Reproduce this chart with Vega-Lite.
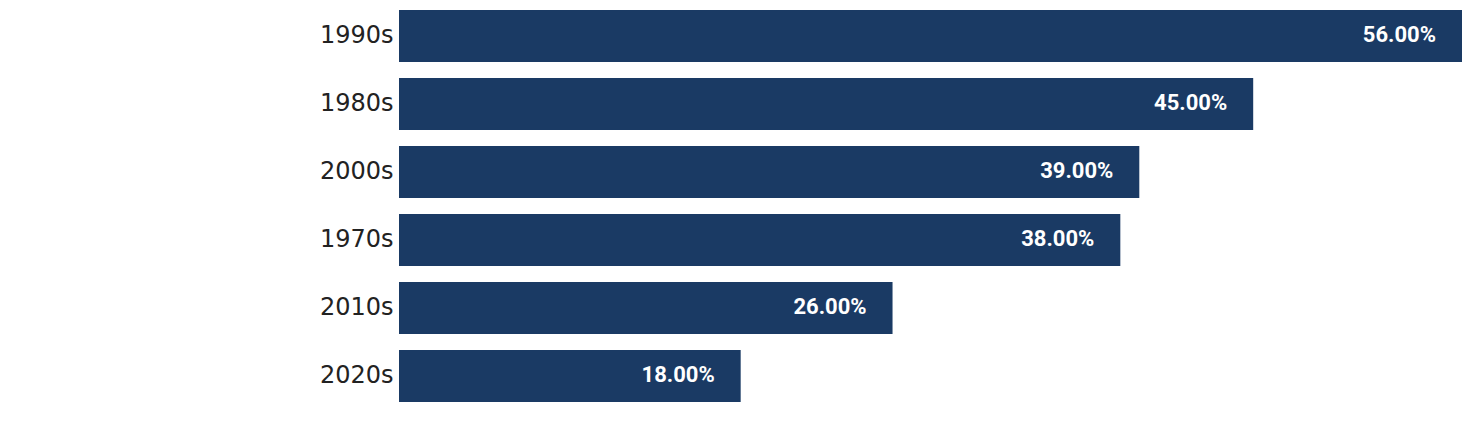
{
  "$schema": "https://vega.github.io/schema/vega-lite/v6.json",
  "autosize": "none",
  "padding": {"left": 399, "top": 2, "right": 14, "bottom": 25},
  "width": 1063,
  "height": 408,
  "background": "white",
  "config": {"view": {"stroke": null}},
  "data": {"values": [
    {"decade": "1990s", "value": 0.56},
    {"decade": "1980s", "value": 0.45},
    {"decade": "2000s", "value": 0.39},
    {"decade": "1970s", "value": 0.38},
    {"decade": "2010s", "value": 0.26},
    {"decade": "2020s", "value": 0.18}
  ]},
  "encoding": {
    "y": {"field": "decade", "type": "nominal", "sort": null,
      "scale": {"paddingInner": 0.235, "paddingOuter": 0.1175},
      "axis": {"title": null, "ticks": false, "domain": false, "labelFontSize": 24, "labelFont": "DejaVu Sans", "labelColor": "#222222", "labelPadding": 6}},
    "x": {"field": "value", "type": "quantitative",
      "scale": {"domain": [0, 0.56], "nice": false},
      "axis": null}
  },
  "layer": [
    {"mark": {"type": "bar", "color": "#1a3a64"}},
    {"mark": {"type": "text", "align": "right", "dx": -26, "dy": -1, "color": "white", "fontWeight": "bold", "fontSize": 22, "font": "Roboto"},
     "encoding": {"text": {"field": "value", "type": "quantitative", "format": ".2%"}}}
  ]
}
